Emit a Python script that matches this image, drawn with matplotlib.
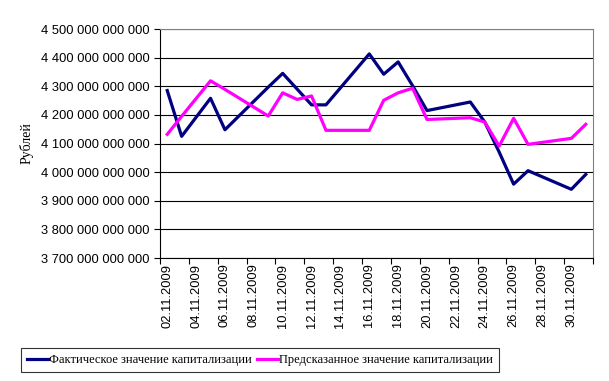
import numpy as np
import matplotlib
matplotlib.use("Agg")
import matplotlib.pyplot as plt
import matplotlib.dates as mdates
from matplotlib.ticker import FuncFormatter, MultipleLocator

# trading days, Nov 2009 (04.11 holiday, weekends skipped)
dates = ["2009-11-02", "2009-11-03", "2009-11-05", "2009-11-06", "2009-11-09",
         "2009-11-10", "2009-11-11", "2009-11-12", "2009-11-13", "2009-11-16",
         "2009-11-17", "2009-11-18", "2009-11-19", "2009-11-20", "2009-11-23",
         "2009-11-24", "2009-11-25", "2009-11-26", "2009-11-27", "2009-11-30",
         "2009-12-01"]

# capitalisation, billions of roubles
fact_bn = [4285, 4125, 4258, 4148, 4297, 4345, 4290, 4235, 4235, 4413,
           4342, 4385, 4302, 4215, 4245, 4175, 4070, 3958, 4005, 3940, 3992]
pred_bn = [4132, 4195, 4319, 4289, 4196, 4277, 4254, 4266, 4146, 4146,
           4251, 4277, 4293, 4184, 4190, 4175, 4091, 4188, 4097, 4118, 4167]

label_fact = "Фактическое значение капитализации"
label_pred = "Предсказанное значение капитализации"
ylabel = "Рублей"

x = mdates.date2num(np.array(dates, dtype="datetime64[D]"))
fact = np.array(fact_bn, dtype=float) * 1e9
pred = np.array(pred_bn, dtype=float) * 1e9

fig = plt.figure(figsize=(6.09, 3.81), dpi=100)
ax = fig.add_axes([160/609, 1 - 258/381, 433/609, 229/381])

ax.plot(x, fact, color="#000080", lw=2.3, label=label_fact, zorder=3)
ax.plot(x, pred, color="#FF00FF", lw=2.3, label=label_pred, zorder=3)

x0 = mdates.date2num(np.datetime64("2009-11-01T12:00"))
ax.set_xlim(x0, x0 + 30)
ax.set_ylim(3.7e12, 4.5e12)

# y axis
ax.yaxis.set_major_locator(MultipleLocator(1e11))
ax.yaxis.set_major_formatter(FuncFormatter(lambda v, p: f"{int(round(v)):,}".replace(",", " ")))
ax.grid(axis="y", color="black", lw=0.8, zorder=1)
ax.set_ylabel(ylabel, family="Liberation Serif", fontsize=10)
ax.yaxis.set_label_coords(-0.292, 0.5)

# x axis: ticks between days, labels every second day
ax.set_xticks([x0 + 2 * k for k in range(16)])
ax.set_xticklabels([])
centers = [x0 + 0.5 + 2 * k for k in range(15)]
ax.set_xticks(centers, minor=True)
ax.set_xticklabels([mdates.num2date(c).strftime("%d.%m.%Y") for c in centers],
                   minor=True, rotation=90, va="top", ha="center")
ax.tick_params(axis="x", which="minor", length=0, pad=4)
ax.tick_params(axis="both", which="major", direction="out", length=4, width=0.8, color="black")

for lab in ax.get_yticklabels() + ax.get_xticklabels(minor=True):
    lab.set_family("Liberation Sans")
    lab.set_fontsize(9.3)

ax.spines["left"].set_color("black")
ax.spines["bottom"].set_color("black")
ax.spines["top"].set_color("#808080")
ax.spines["right"].set_color("#808080")
for s in ax.spines.values():
    s.set_linewidth(0.8)

leg = fig.legend(loc="center", bbox_to_anchor=(260/609, 1 - 360/381), ncol=2,
                 frameon=True, fancybox=False, edgecolor="black",
                 handlelength=1.7, handletextpad=0.1, columnspacing=0.4,
                 borderpad=0.45, prop={"family": "Liberation Serif", "size": 9})
leg.get_frame().set_linewidth(0.8)

fig.savefig("out.png", dpi=100)
